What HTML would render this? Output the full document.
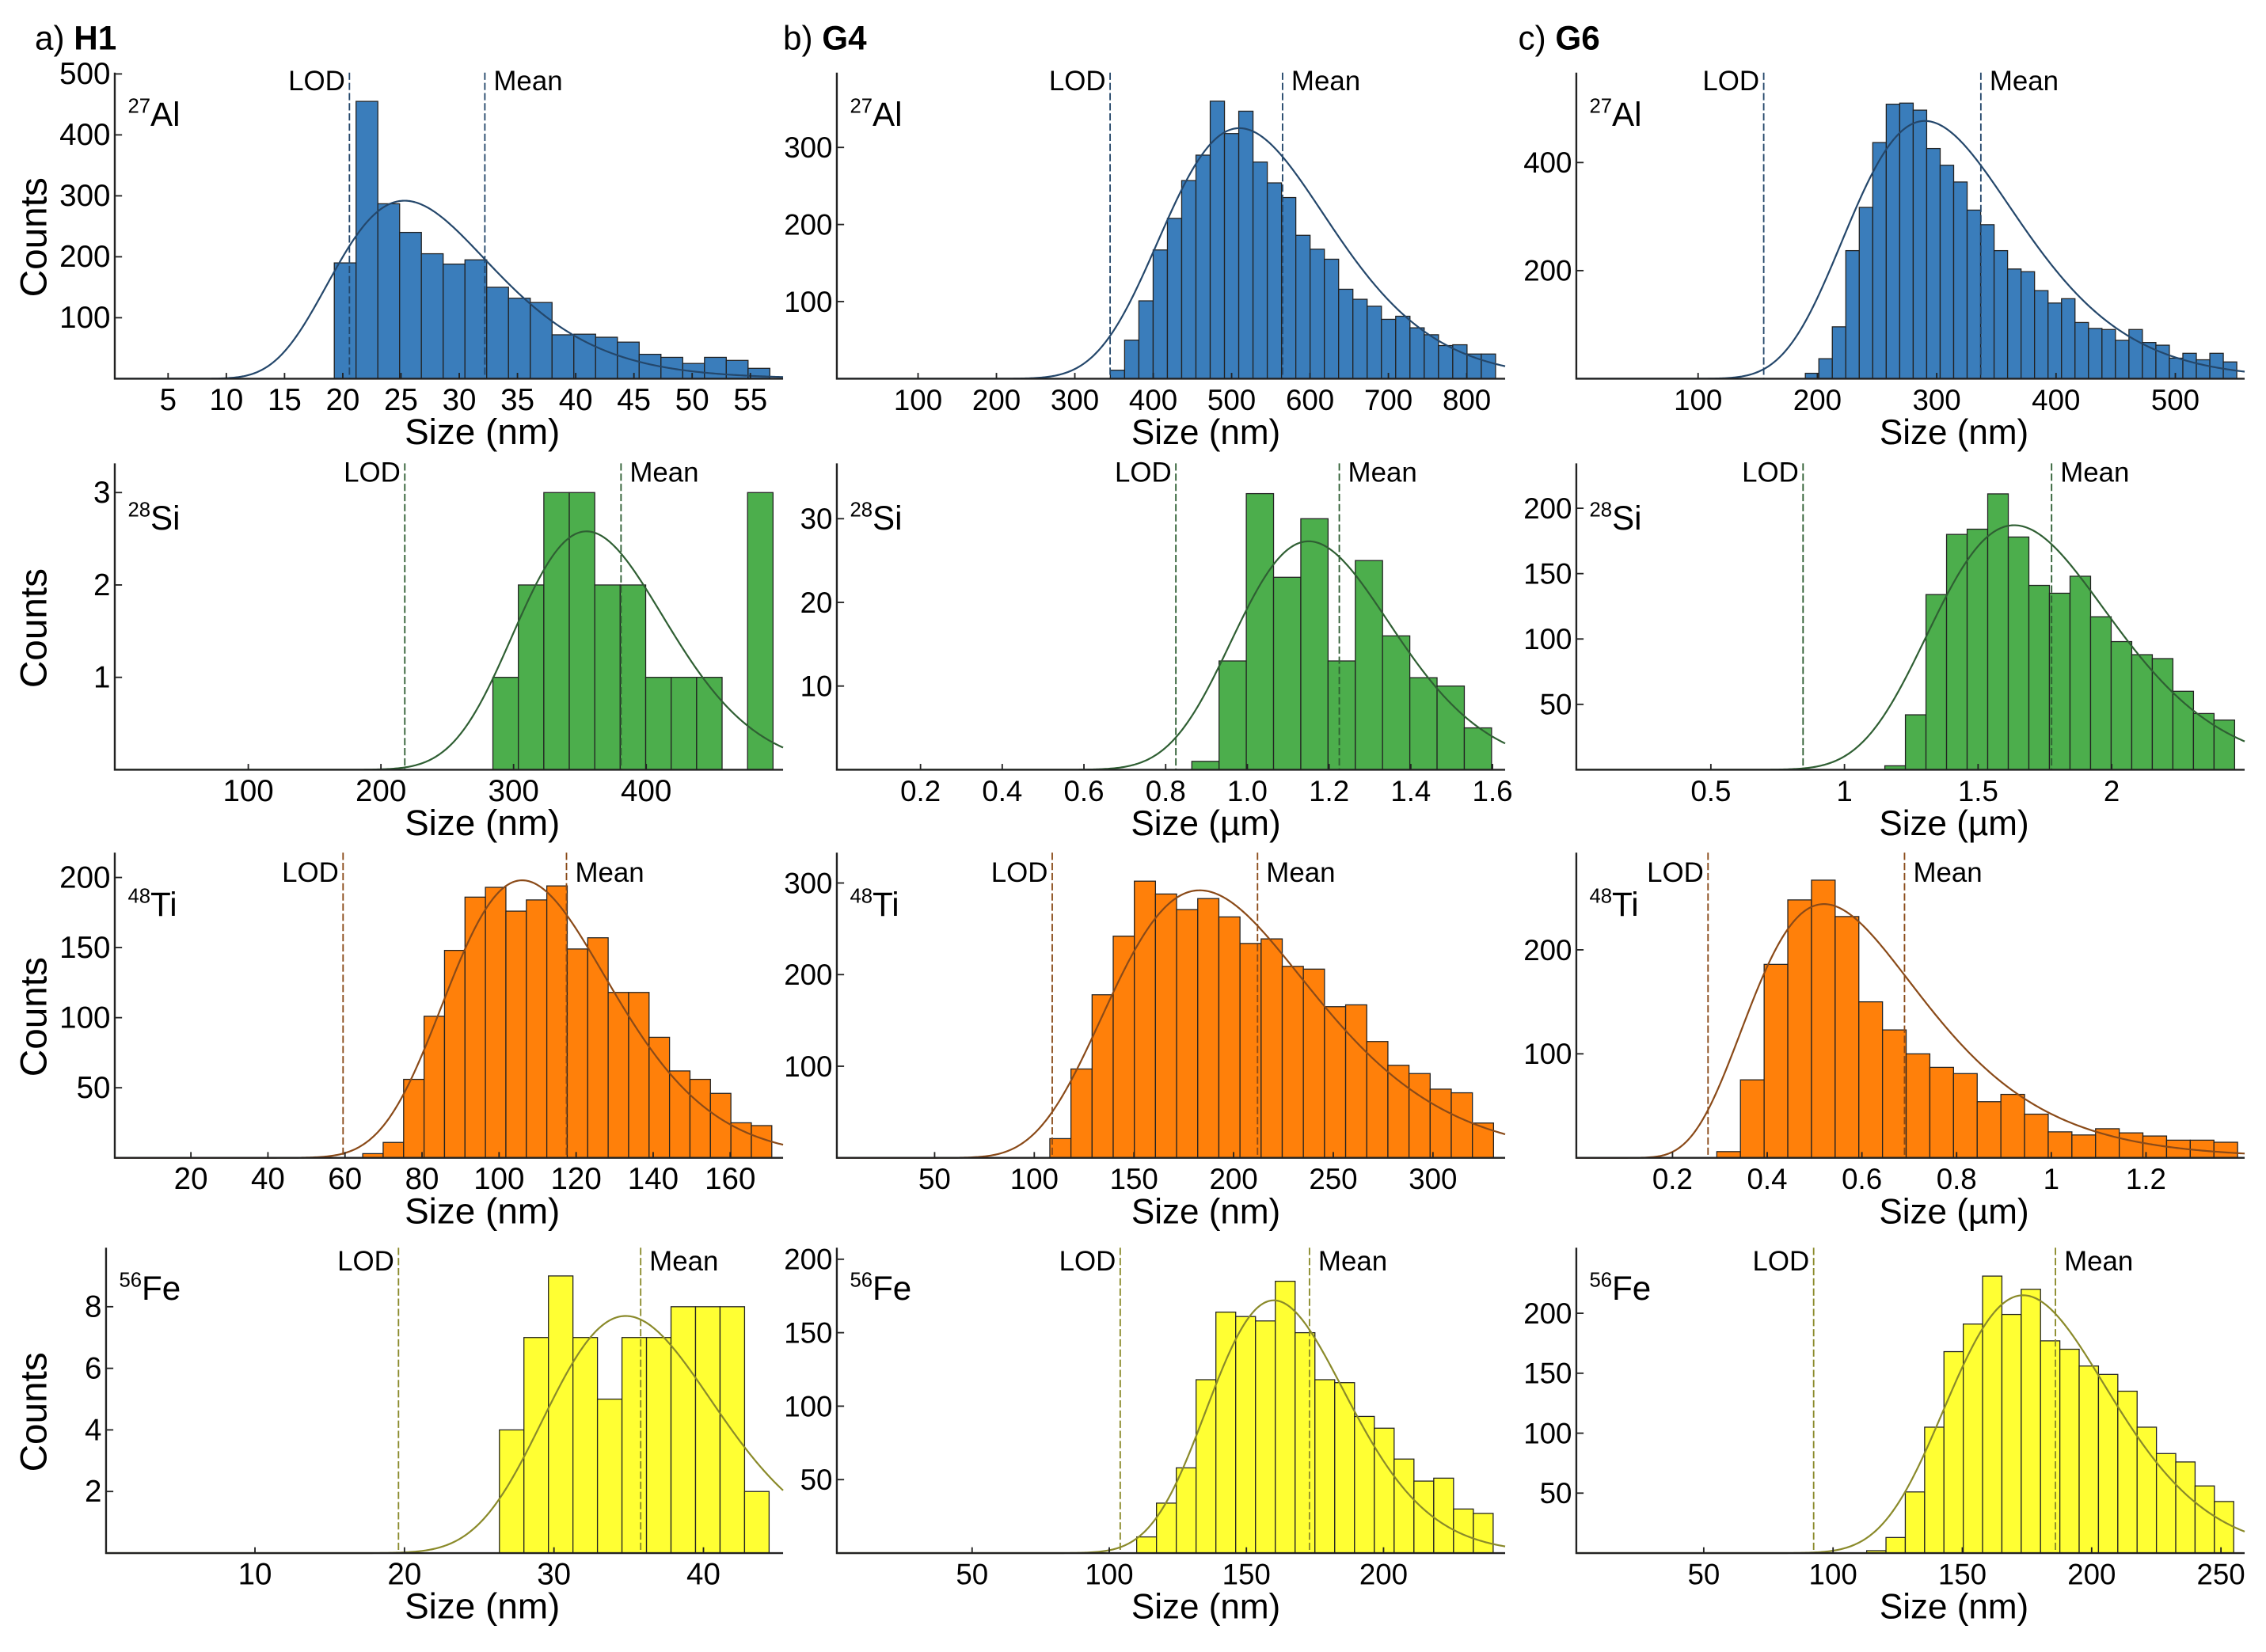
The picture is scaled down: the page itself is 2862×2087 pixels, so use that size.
<!DOCTYPE html>
<html><head><meta charset="utf-8">
<style>
html,body{margin:0;padding:0;background:#fff;}
svg{display:block;}
text{font-family:"Liberation Sans",sans-serif;fill:#000;}
.narrow{font-family:"Liberation Sans Narrow","Liberation Sans",sans-serif;}
</style></head>
<body>
<svg id="fig" width="2862" height="2087" viewBox="0 0 1559.7 1137.3" preserveAspectRatio="none" xmlns="http://www.w3.org/2000/svg">
<rect x="0" y="0" width="1559.7" height="1137.3" fill="#fff"/>
<text x="24" y="34" font-size="23" class="narrow">a) <tspan font-weight="bold">H1</tspan></text>
<text x="539" y="34" font-size="23" class="narrow">b) <tspan font-weight="bold">G4</tspan></text>
<text x="1045" y="34" font-size="23" class="narrow">c) <tspan font-weight="bold">G6</tspan></text>
<g id="plots"></g>
</svg>
<script>
// ---- data: bin starts, bin widths, counts, fit params, LOD & mean ----
const alH1Counts=[190,455,287,240,205,188,195,150,132,125,72,73,68,60,40,35,25,35,30,17];
const alH1Bins=[19.27,1.87];
const alH1Fit=[25.3,0.27,292];
const alH1Lines=[20.57,32.2];
const alG4Counts=[11,50,101,167,208,257,290,360,318,347,281,254,235,186,168,155,116,103,94,77,81,66,57,43,44,32,32];
const alG4Bins=[345.3,18.2];
const alG4Fit=[510,0.208,325];
const alG4Lines=[345,565];
const alG6Counts=[10,37,96,237,317,437,508,510,497,426,395,364,312,285,237,203,198,163,140,148,104,93,91,71,91,67,62,38,47,35,47,31];
const alG6Bins=[189.9,11.3];
const alG6Fit=[290,0.244,477];
const alG6Lines=[155,337];
const siH1Counts=[1,2,3,3,2,2,1,1,1,0,3];
const siH1Bins=[284.4,19.2];
const siH1Fit=[355,0.16,2.58];
const siH1Lines=[218,381];
const siG4Counts=[1,13,33,23,30,13,25,16,11,10,5];
const siG4Bins=[0.864,0.0667];
const siG4Fit=[1.15,0.168,27.3];
const siG4Lines=[0.825,1.225];
const siG6Counts=[3,42,134,180,184,211,178,141,135,148,117,98,88,85,60,43,38];
const siG6Bins=[1.151,0.077];
const siG6Fit=[1.635,0.204,187];
const siG6Lines=[0.845,1.775];
const tiH1Counts=[3,11,56,101,148,186,193,176,184,194,149,157,118,118,86,62,56,46,25,23];
const tiH1Bins=[64.6,5.31];
const tiH1Fit=[106,0.2,198];
const tiH1Lines=[59.5,117.5];
const tiG4Counts=[21,97,178,242,302,288,271,283,263,234,239,209,206,165,167,127,101,92,75,71,38];
const tiG4Bins=[107.8,10.6];
const tiG4Fit=[183,0.276,292];
const tiG4Lines=[109,212];
const tiG6Counts=[6,75,186,248,267,232,150,123,100,87,81,54,61,42,25,22,28,24,21,17,17,15];
const tiG6Bins=[0.2935,0.05];
const tiG6Fit=[0.52,0.349,244];
const tiG6Lines=[0.275,0.69];
const feH1Counts=[4,7,9,7,5,7,7,8,8,8,2];
const feH1Bins=[26.35,1.64];
const feH1Fit=[34.8,0.162,7.7];
const feH1Lines=[19.6,35.8];
const feG4Counts=[11,34,58,118,164,161,158,185,150,118,116,93,85,64,49,51,30,27];
const feG4Bins=[110,7.22];
const feG4Fit=[160,0.157,172];
const feG4Lines=[104,173];
const feG6Counts=[2,13,51,105,168,191,231,199,220,177,170,156,149,135,105,83,76,56,43];
const feG6Bins=[113,7.47];
const feG6Fit=[173.5,0.18,215];
const feG6Lines=[92.5,186];

const xTicksAlH1=[5,10,15,20,25,30,35,40,45,50,55];
const yTicksAlH1=[100,200,300,400,500];
const xTicksAlG4=[100,200,300,400,500,600,700,800];
const yTicksAlG4=[100,200,300];
const xTicksAlG6=[100,200,300,400,500];
const yTicksAlG6=[200,400];
const xTicksSiH1=[100,200,300,400];
const yTicksSiH1=[1,2,3];
const xTicksSiG4=[0.2,0.4,0.6,0.8,1.0,1.2,1.4,1.6];
const yTicksSiG4=[10,20,30];
const xTicksSiG6=[0.5,1,1.5,2];
const yTicksSiG6=[50,100,150,200];
const xTicksTiH1=[20,40,60,80,100,120,140,160];
const yTicksTiH1=[50,100,150,200];
const xTicksTiG4=[50,100,150,200,250,300];
const yTicksTiG4=[100,200,300];
const xTicksTiG6=[0.2,0.4,0.6,0.8,1,1.2];
const yTicksTiG6=[100,200];
const xTicksFeH1=[10,20,30,40];
const yTicksFeH1=[2,4,6,8];
const xTicksFeG4=[50,100,150,200];
const yTicksFeG4=[50,100,150,200];
const xTicksFeG6=[50,100,150,200,250];
const yTicksFeG6=[50,100,150,200];

const COL={Al:["#3a7dbb","#24476b"],Si:["#4cae4c","#2f5f33"],Ti:["#ff800a","#8a4a18"],Fe:["#ffff33","#8a8a2a"]};
const ROWS={Al:{base:260.7,top:50,lab:62,iso:86.6,mass:"27"},Si:{base:529.9,top:319,lab:331.6,iso:364.6,mass:"28"},Ti:{base:797.1,top:587,lab:607,iso:630.6,mass:"48"},Fe:{base:1069.2,top:859,lab:874.6,iso:894.7,mass:"56"}};
const COLS=[{l:79,r:539,narrow:true,c:309},{l:576,r:1036,narrow:false,c:830},{l:1085,r:1545,narrow:false,c:1345}];

const panels=[
 ["Al",0,5,115.7,55,516.5,0.4196,"nm",alH1Counts,alH1Bins,alH1Fit,alH1Lines,xTicksAlH1,yTicksAlH1],
 ["Al",1,100,631.9,800,1009.6,0.5307,"nm",alG4Counts,alG4Bins,alG4Fit,alG4Lines,xTicksAlG4,yTicksAlG4],
 ["Al",2,100,1168.8,500,1497.3,0.372,"nm",alG6Counts,alG6Bins,alG6Fit,alG6Lines,xTicksAlG6,yTicksAlG6],
 ["Si",0,300,353.5,400,444.8,63.6,"nm",siH1Counts,siH1Bins,siH1Fit,siH1Lines,xTicksSiH1,yTicksSiH1],
 ["Si",1,0.2,633.6,1.6,1027.3,5.76,"µm",siG4Counts,siG4Bins,siG4Fit,siG4Lines,xTicksSiG4,yTicksSiG4],
 ["Si",2,0.5,1177.6,2,1453.5,0.9,"µm",siG6Counts,siG6Bins,siG6Fit,siG6Lines,xTicksSiG6,yTicksSiG6],
 ["Ti",0,20,131.4,160,502.6,0.965,"nm",tiH1Counts,tiH1Bins,tiH1Fit,tiH1Lines,xTicksTiH1,yTicksTiH1],
 ["Ti",1,50,643.3,300,986.3,0.6307,"nm",tiG4Counts,tiG4Bins,tiG4Fit,tiG4Lines,xTicksTiG4,yTicksTiG4],
 ["Ti",2,0.2,1151.2,1.2,1477.1,0.716,"µm",tiG6Counts,tiG6Bins,tiG6Fit,tiG6Lines,xTicksTiG6,yTicksTiG6],
 ["Fe",0,10,175.5,40,484.2,21.2,"nm",feH1Counts,feH1Bins,feH1Fit,feH1Lines,xTicksFeH1,yTicksFeH1],
 ["Fe",1,50,669.1,200,952.3,1.0115,"nm",feG4Counts,feG4Bins,feG4Fit,feG4Lines,xTicksFeG4,yTicksFeG4],
 ["Fe",2,50,1172.7,250,1528.7,0.8255,"nm",feG6Counts,feG6Bins,feG6Fit,feG6Lines,xTicksFeG6,yTicksFeG6]
];
const NS="http://www.w3.org/2000/svg";
const root=document.getElementById("plots");
function mk(tag,attrs,parent){const e=document.createElementNS(NS,tag);for(const k in attrs)e.setAttribute(k,attrs[k]);parent.appendChild(e);return e;}

panels.forEach((p,i)=>{
 const [el,ci,va,pa,vb,pb,ppc,unit,counts,bins,fit,lines,xt,yt]=p;
 const row=ROWS[el], col=COLS[ci];
 const left=(el==="Fe"&&ci===0)?73:col.l;
 const xs=v=>pa+(v-va)*(pb-pa)/(vb-va);
 const ys=c=>row.base-c*ppc;
 const g=mk("g",{},root);
 
 
 const fs=col.narrow?"narrow":"";
 counts.forEach((c,k)=>{
  if(c<=0)return;
  const x0=xs(bins[0]+k*bins[1]), x1=xs(bins[0]+(k+1)*bins[1]);
  const r=mk("rect",{x:x0,y:ys(c),width:x1-x0,height:row.base-ys(c),fill:COL[el][0],stroke:"#222","stroke-width":0.7},g);
  
  
 });
 let d="";
 for(let px=left;px<=col.r;px+=1){
  const v=va+(px-pa)*(vb-va)/(pb-pa);
  let c=0; if(v>0){const z=Math.log(v/fit[0])/fit[1]; c=fit[2]*Math.exp(-0.5*z*z);}
  d+=(d?"L":"M")+px.toFixed(1)+" "+ys(c).toFixed(2);
 }
 const cv=mk("path",{d:d,fill:"none",stroke:COL[el][1],"stroke-width":1.2},g);
 
 
 lines.forEach((v,k)=>{
  const x=xs(v);
  const ln=mk("line",{x1:x,x2:x,y1:row.top,y2:row.base,stroke:COL[el][1],"stroke-width":1,"stroke-dasharray":"5,2"},g);
  
  
  const t=mk("text",{x:k===0?x-3:x+6,y:row.lab,"font-size":19,"text-anchor":k===0?"end":"start",class:fs},g);
  t.textContent=k===0?"LOD":"Mean";
  
  
 });
 const ax=mk("path",{d:`M${left} ${row.top}L${left} ${row.base}L${col.r} ${row.base}`,fill:"none",stroke:"#222","stroke-width":1.3},g);
 
 
 xt.forEach(v=>{
  const x=xs(v);
  mk("line",{x1:x,x2:x,y1:row.base,y2:row.base-4,stroke:"#222","stroke-width":1},g);
  const t=mk("text",{x:x,y:row.base+21.5,"font-size":col.narrow?21:20,"text-anchor":"middle",class:fs},g);
  t.textContent=String(v);
  if(ci===1&&el==="Si")t.textContent=v.toFixed(1);
  
  
 });
 yt.forEach(v=>{
  const y=ys(v);
  mk("line",{x1:left,x2:left+5,y1:y,y2:y,stroke:"#222","stroke-width":1},g);
  const t=mk("text",{x:left-3,y:y+7,"font-size":col.narrow?21:20,"text-anchor":"end",class:fs},g);
  t.textContent=v;
  
  
 });
 const xt2=mk("text",{x:col.c+(ci===0?23:0),y:row.base+45,"font-size":col.narrow?25:24,"text-anchor":"middle",class:fs},g);
 xt2.textContent="Size ("+unit+")";
 
 
 const iso=mk("text",{x:left+9,y:row.iso,"font-size":23,class:fs},g);
 iso.innerHTML=`<tspan font-size="14" dy="-9">${row.mass}</tspan><tspan dy="9">${el}</tspan>`;
 
 
 if(ci===0){
  const cy=(row.top+row.base)/2+8;
  const ct=mk("text",{x:0,y:0,"font-size":26,"text-anchor":"middle",transform:`translate(32 ${cy}) rotate(-90)`},g);
  ct.textContent="Counts";
  
  
 }
});
</script>
</body></html>
